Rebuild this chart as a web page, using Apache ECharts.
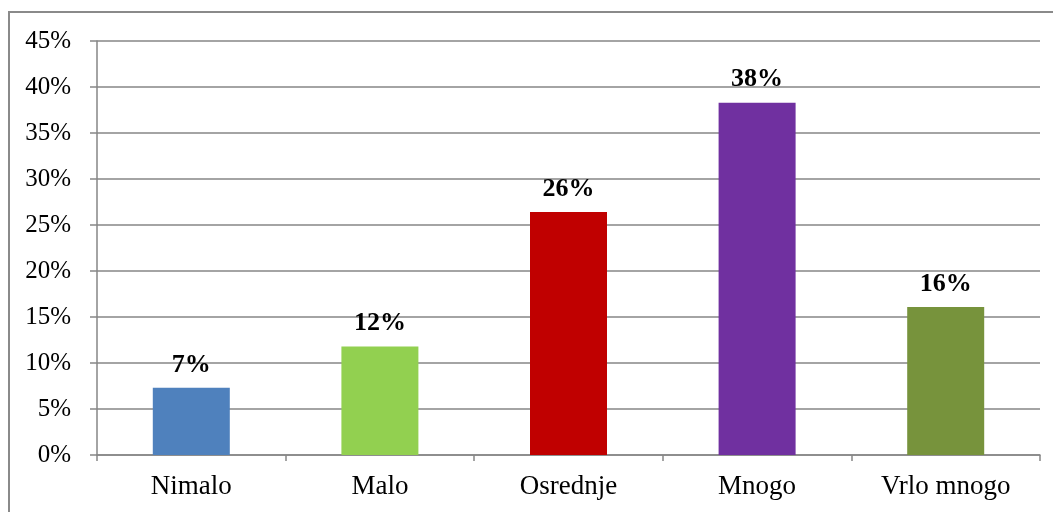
<!DOCTYPE html>
<html>
<head>
<meta charset="utf-8">
<script src="https://cdn.jsdelivr.net/npm/echarts@6/dist/echarts.min.js"></script>
<style>
  html, body { margin: 0; padding: 0; background: #fff; }
  #frame {
    position: absolute; left: 8px; top: 11px; width: 1060px; height: 520px;
    border-top: 2px solid #8a8a8a; border-left: 2px solid #8a8a8a;
    box-sizing: border-box; pointer-events: none;
  }
  #chart { position: absolute; left: 0; top: 0; width: 1053px; height: 512px; }
</style>
</head>
<body>
<div id="chart"></div>
<div id="frame"></div>
<script>
// Answer categories and the share of respondents (percent) for each
const categories = ['Nimalo', 'Malo', 'Osrednje', 'Mnogo', 'Vrlo mnogo'];
const shares = [7.3, 11.8, 26.4, 38.3, 16.1];
const barColors = ['#4F81BD', '#92D050', '#C00000', '#7030A0', '#77933C'];
const yTicks = { min: 0, max: 45, step: 5 };

const chart = echarts.init(document.getElementById('chart'), null, { renderer: 'canvas' });
const serif = '"Liberation Serif", "DejaVu Serif", serif';
const axisGray = '#868686';

chart.setOption({
  animation: false,
  grid: { left: 97, right: 13, top: 41, bottom: 57, containLabel: false },
  xAxis: {
    type: 'category',
    data: categories,
    axisLine: { show: true, lineStyle: { color: axisGray, width: 1.5 } },
    axisTick: { show: true, alignWithLabel: false, length: 6, lineStyle: { color: axisGray, width: 1.5 } },
    axisLabel: { color: '#000', fontFamily: serif, fontSize: 27, margin: 18 }
  },
  yAxis: {
    type: 'value',
    min: yTicks.min, max: yTicks.max, interval: yTicks.step,
    axisLine: { show: true, lineStyle: { color: axisGray, width: 1.5 } },
    axisTick: { show: true, length: 7, inside: false, lineStyle: { color: axisGray, width: 1.5 } },
    splitLine: { show: true, lineStyle: { color: axisGray, width: 1.5 } },
    axisLabel: { color: '#000', fontFamily: serif, fontSize: 25, margin: 26, formatter: v => v + '%' }
  },
  series: [{
    type: 'bar',
    data: shares.map((v, i) => ({ value: v, itemStyle: { color: barColors[i] } })),
    barWidth: 77,
    label: {
      show: true, position: 'top', distance: 10,
      color: '#000', fontFamily: serif, fontSize: 26, fontWeight: 'bold',
      formatter: p => Math.round(p.value) + '%'
    }
  }]
});
</script>
</body>
</html>
